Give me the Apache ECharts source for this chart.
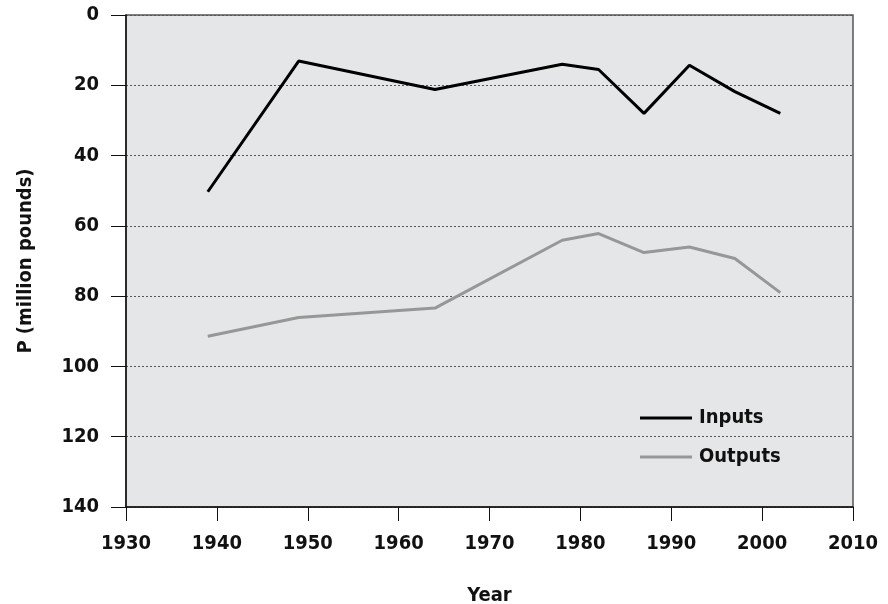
<!DOCTYPE html>
<html>
<head>
<meta charset="utf-8">
<script src="https://cdn.jsdelivr.net/npm/echarts@6/dist/echarts.min.js"></script>
<style>
html,body{margin:0;padding:0;background:#fff;}
#chart{width:888px;height:604px;}
</style>
</head>
<body>
<div id="chart"></div>
<script>
const years = [1939, 1949, 1964, 1978, 1982, 1987, 1992, 1997, 2002];
const inputs = [50.3, 13.1, 21.2, 14.0, 15.5, 28.0, 14.3, 21.8, 28.0];
const outputs = [91.4, 86.1, 83.4, 64.1, 62.2, 67.6, 66.0, 69.3, 79.0];
const seriesNames = ['Inputs', 'Outputs'];
const xTitle = 'Year';
const yTitle = 'P (million pounds)';

function hasFont(name) {
  const c = document.createElement('canvas').getContext('2d');
  const s = 'mmmmmmwwwwlli1930';
  c.font = 'bold 40px monospace';
  const w1 = c.measureText(s).width;
  c.font = 'bold 40px "' + name + '", monospace';
  const w2 = c.measureText(s).width;
  c.font = 'bold 40px serif';
  const w3 = c.measureText(s).width;
  c.font = 'bold 40px "' + name + '", serif';
  const w4 = c.measureText(s).width;
  return Math.abs(w1 - w2) > 0.5 || Math.abs(w3 - w4) > 0.5;
}
const candidates = ['Liberation Sans Narrow', 'DejaVu Sans Condensed'];
let fam = 'sans-serif';
for (const f of candidates) { if (hasFont(f)) { fam = '"' + f + '"'; break; } }
const narrow = fam.indexOf('Narrow') >= 0;
const FONT = fam + ', sans-serif';
const FS = narrow ? 22 : 20;

const chart = echarts.init(document.getElementById('chart'), null, {renderer: 'canvas'});
chart.setOption({
  animation: false,
  backgroundColor: '#ffffff',
  grid: {
    left: 126, right: 35, top: 15, bottom: 97,
    outerBoundsMode: 'none', containLabel: false,
    show: true, backgroundColor: '#e5e6e8', borderColor: '#555555', borderWidth: 1.5
  },
  legend: {
    orient: 'vertical',
    left: 635, top: 403,
    itemWidth: 52, itemHeight: 3, itemGap: 19,
    icon: 'rect',
    textStyle: {fontFamily: FONT, fontWeight: 'bold', fontSize: FS, color: '#111', padding: [0, 0, 0, 2]},
    data: seriesNames
  },
  xAxis: {
    type: 'value', min: 1930, max: 2010, interval: 10,
    name: xTitle, nameLocation: 'middle', nameGap: 79,
    nameTextStyle: {fontFamily: FONT, fontWeight: 'bold', fontSize: FS, color: '#111'},
    axisLine: {show: true, onZero: false, lineStyle: {color: '#111', width: 1.5}},
    axisTick: {show: true, inside: false, length: 14, lineStyle: {color: '#111', width: 1}},
    axisLabel: {fontFamily: FONT, fontWeight: 'bold', fontSize: FS, color: '#111', margin: 27,
      formatter: v => String(v)},
    splitLine: {show: false}
  },
  yAxis: {
    type: 'value', min: 0, max: 140, interval: 20, inverse: true,
    name: yTitle, nameLocation: 'middle', nameGap: 90,
    nameTextStyle: {fontFamily: FONT, fontWeight: 'bold', fontSize: FS, color: '#111'},
    axisLine: {show: true, onZero: false, lineStyle: {color: '#111', width: 1.5}},
    axisTick: {show: true, inside: false, length: 15, lineStyle: {color: '#111', width: 1}},
    axisLabel: {fontFamily: FONT, fontWeight: 'bold', fontSize: FS, color: '#111', margin: 27},
    splitLine: {show: true, lineStyle: {color: '#555', type: [2, 2], width: 1}}
  },
  series: [
    {
      name: seriesNames[0], type: 'line', showSymbol: false, symbol: 'none',
      data: years.map((y, i) => [y, inputs[i]]),
      lineStyle: {color: '#000', width: 3}, itemStyle: {color: '#000'}
    },
    {
      name: seriesNames[1], type: 'line', showSymbol: false, symbol: 'none',
      data: years.map((y, i) => [y, outputs[i]]),
      lineStyle: {color: '#979797', width: 3}, itemStyle: {color: '#979797'}
    }
  ]
});
</script>
</body>
</html>
